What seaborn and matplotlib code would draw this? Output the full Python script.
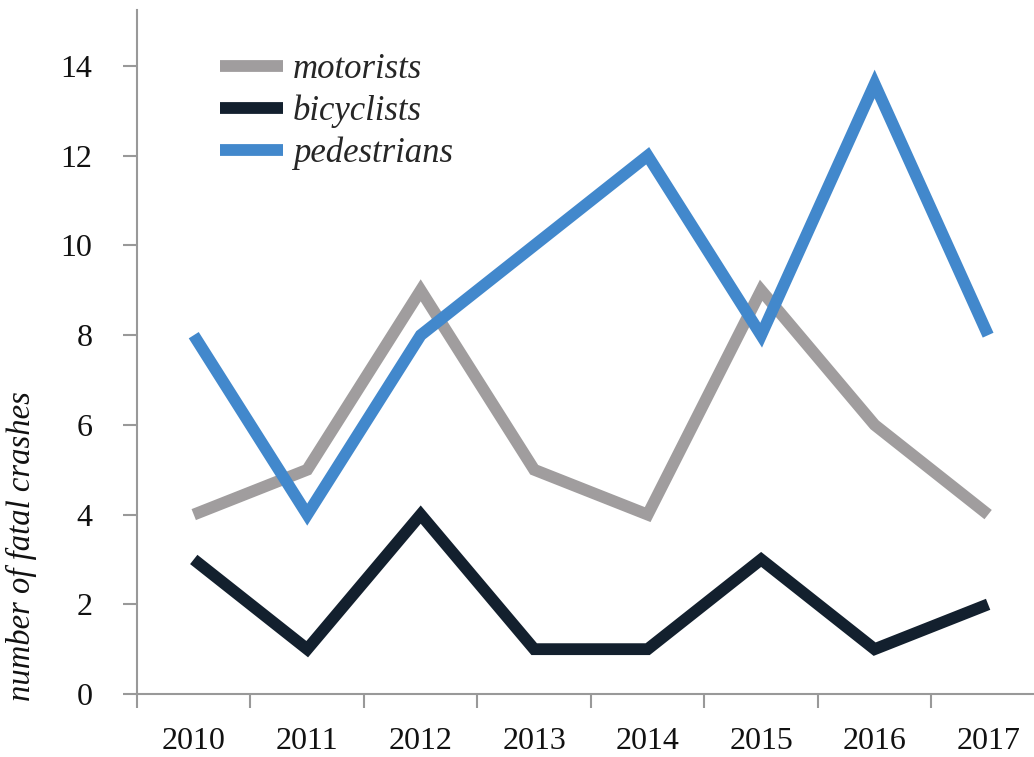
import pandas as pd
import matplotlib.pyplot as plt
import seaborn as sns

# values
years = ['2010', '2011', '2012', '2013', '2014', '2015', '2016', '2017']
motorists = [4, 5, 9, 5, 4, 9, 6, 4]
bicyclists = [3, 1, 4, 1, 1, 3, 1, 2]
pedestrians = [8, 4, 8, 10, 12, 8, 13.6, 8]
groups = ['motorists', 'bicyclists', 'pedestrians']
colors = ['#a09d9e', '#13202e', '#4288cc']

df = pd.DataFrame({
    'pos': list(range(len(years))) * 3,
    'crashes': motorists + bicyclists + pedestrians,
    'group': [g for g in groups for _ in years],
})

sns.set_style('ticks')
plt.rcParams['font.family'] = ['Liberation Serif', 'DejaVu Serif']

fig = plt.figure(figsize=(10.34, 7.57), dpi=100)
ax = fig.add_axes([0.1325, 0.0832, 0.878, 0.9036])

sns.lineplot(data=df, x='pos', y='crashes', hue='group', hue_order=groups,
             palette=colors, linewidth=8.5, ax=ax)
for line in ax.lines:
    line.set_solid_joinstyle('miter')
    line.set_solid_capstyle('butt')

ax.set_xlim(-0.5, 7.5)
ax.set_ylim(0, 15.25)

# category boundaries get tick marks, labels sit in the middle
ax.set_xticks([i - 0.5 for i in range(len(years))])
ax.set_xticklabels([])
ax.set_xticks(range(len(years)), years, minor=True)
ax.tick_params(axis='x', which='major', length=10, width=1.5, color='#999999')
ax.tick_params(axis='x', which='minor', length=0, pad=24, labelsize=23, labelcolor='#111111')
ax.set_yticks(range(0, 15, 2))
ax.tick_params(axis='y', length=10, width=1.5, color='#999999', pad=22,
               labelsize=23, labelcolor='#111111')

sns.despine(ax=ax)
for s in ['left', 'bottom']:
    ax.spines[s].set_color('#999999')
    ax.spines[s].set_linewidth(1.5)

ax.set_xlabel('')
ax.set_ylabel('number of fatal crashes', fontsize=23.5, style='italic', color='#111111')
ax.yaxis.set_label_coords(-0.11, 0.217)

leg = ax.legend(loc='upper left', bbox_to_anchor=(0.057, 0.983), frameon=False,
                prop={'size': 25, 'style': 'italic'}, handlelength=1.8,
                handletextpad=0.3, labelspacing=0.25)
for h in leg.get_lines():
    h.set_linewidth(8.5)
    h.set_solid_capstyle('butt')

fig.savefig('out.png', dpi=100)
